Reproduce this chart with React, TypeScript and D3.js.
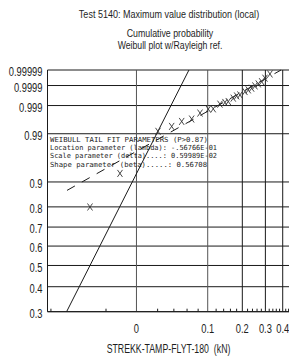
import React from "react";
import * as d3 from "d3";

const W = 289;
const H = 357;

// Weibull tail fit parameters (shown in the chart)
const LAMBDA = -0.056766;
const DELTA = 0.0059989;
const BETA = 0.56708;
const FIT_P_MIN = 0.87;

const X_DOMAIN = [-0.0408, 0.45];
const P_DOMAIN = [0.3, 0.99999];

const yTicks = [0.99999, 0.9999, 0.999, 0.99, 0.9, 0.8, 0.7, 0.6, 0.5, 0.4, 0.3];
const yTickLabels = ["0.99999", "0.9999", "0.999", "0.99", "0.9", "0.8", "0.7", "0.6", "0.5", "0.4", "0.3"];

const xMajor = [0, 0.1, 0.2, 0.3, 0.4];
const xMajorLabels = ["0", "0.1", "0.2", "0.3", "0.4"];
const xMinor = [-0.04, -0.02, 0.02, 0.04, 0.06, 0.08, 0.12, 0.14, 0.16, 0.18, 0.22, 0.24, 0.26, 0.28, 0.32, 0.34, 0.36, 0.38, 0.42, 0.44];

const sampleX = [-0.0275, -0.0119, 0.0204, 0.037, 0.0514, 0.0679, 0.0837, 0.1013, 0.1129, 0.1299, 0.1437, 0.1534, 0.1689, 0.1801, 0.1915, 0.2099, 0.2228, 0.2366, 0.2507, 0.2656, 0.2815, 0.2979, 0.324];
const sampleP = [0.7995, 0.926, 0.9915, 0.99401, 0.9959, 0.99662, 0.99797, 0.99859, 0.99862, 0.99913, 0.99927, 0.99934, 0.99954, 0.99964, 0.99968, 0.999785, 0.999825, 0.999858, 0.999895, 0.999919, 0.999941, 0.999964, 0.999981];

// Rayleigh reference line (two ends, straight in Weibull space)
const rayleighX = [-0.0358, 0.0632];
const rayleighP = [0.3, 0.99999];

const titleLines = ["Test 5140: Maximum value distribution (local)", "Cumulative probability", "Weibull plot w/Rayleigh ref."];
const xAxisLabel = "STREKK-TAMP-FLYT-180  (kN)";
const fitTextLines = [
  "WEIBULL TAIL FIT PARAMETERS (P>0.87)",
  "Location parameter (lambda): -.56766E-01",
  "Scale parameter (delta)....: 0.59989E-02",
  "Shape parameter (beta).....: 0.56708",
];

const FONT = "'Liberation Sans', Arial, sans-serif";
const MONO = "'DejaVu Sans Mono', 'Liberation Mono', monospace";

export default function App() {
  const left = 47.5, right = 290, top = 70, bottom = 311.7;
  const xLog = d3.scaleLog().domain([X_DOMAIN[0] - LAMBDA, X_DOMAIN[1] - LAMBDA]).range([left, right]);
  const xs = (v: number) => xLog(v - LAMBDA);
  const wt = (p: number) => Math.log(-Math.log(1 - p));
  const yLin = d3.scaleLinear().domain([wt(P_DOMAIN[0]), wt(P_DOMAIN[1])]).range([bottom, top]);
  const ys = (p: number) => yLin(wt(p));

  const line = d3.line<[number, number]>().x((d) => xs(d[0])).y((d) => ys(d[1]));
  const rayleigh: [number, number][] = rayleighX.map((v, i) => [v, rayleighP[i]]);
  const fitX = (p: number) => LAMBDA + DELTA * Math.pow(-Math.log(1 - p), 1 / BETA);
  const fitPts: [number, number][] = [FIT_P_MIN, P_DOMAIN[1]].map((p) => [fitX(p), p]);

  const stroke = "#1a1a1a";
  const txt = "#1e1e1e";

  return (
    <svg width={W} height={H} style={{ position: "absolute", left: 0, top: 0, background: "#fff" }}>
      <rect x={0} y={0} width={W} height={H} fill="#fff" />
      <defs>
        <clipPath id="plotclip">
          <rect x={left} y={top - 1} width={right - left} height={bottom - top + 2} />
        </clipPath>
      </defs>
      {/* titles */}
      <g transform="translate(169,17.5) scale(0.82,1)">
        <text x={0} y={0} fontFamily={FONT} fontSize={11} textAnchor="middle" fill={txt}>{titleLines[0]}</text>
      </g>
      <g transform="translate(170,37.2) scale(0.88,1)">
        <text x={0} y={0} fontFamily={FONT} fontSize={10} textAnchor="middle" fill={txt}>{titleLines[1]}</text>
      </g>
      <g transform="translate(170,48.6) scale(0.87,1)">
        <text x={0} y={0} fontFamily={FONT} fontSize={10} textAnchor="middle" fill={txt}>{titleLines[2]}</text>
      </g>

      {/* horizontal grid lines */}
      {yTicks.map((p) => (
        <line key={"h" + p} x1={left} x2={right} y1={ys(p)} y2={ys(p)} stroke={stroke} strokeWidth={1} />
      ))}
      {/* vertical grid lines */}
      {xMajor.map((v) => (
        <line key={"v" + v} x1={xs(v)} x2={xs(v)} y1={top} y2={bottom} stroke={v === 0.1 || v === 0 ? "#555" : stroke} strokeWidth={1} />
      ))}
      {/* axis frame */}
      <line x1={left} x2={left} y1={top} y2={bottom} stroke={stroke} strokeWidth={1} />
      <line x1={left} x2={right} y1={bottom} y2={bottom} stroke={stroke} strokeWidth={1} />
      {/* minor ticks */}
      {xMinor.map((v) => (
        <line key={"m" + v} x1={xs(v)} x2={xs(v)} y1={bottom} y2={bottom - 3} stroke={stroke} strokeWidth={1} />
      ))}

      {/* y labels */}
      {yTicks.map((p, i) => (
        <g key={"yl" + p} transform={`translate(42.5,${ys(p) + 3}) scale(0.72,1)`}>
          <text x={0} y={0} fontFamily={FONT} fontSize={13} textAnchor="end" dominantBaseline="middle" fill={txt}>{yTickLabels[i]}</text>
        </g>
      ))}
      {/* x labels */}
      {xMajor.map((v, i) => (
        <g key={"xl" + v} transform={`translate(${xs(v)},332.5) scale(0.72,1)`}>
          <text x={0} y={0} fontFamily={FONT} fontSize={13} textAnchor="middle" fill={txt}>{xMajorLabels[i]}</text>
        </g>
      ))}
      <g transform="translate(168.5,353) scale(0.73,1)">
        <text x={0} y={0} fontFamily={FONT} fontSize={12} textAnchor="middle" style={{ whiteSpace: "pre" }} fill={txt}>{xAxisLabel}</text>
      </g>

      {/* fit parameter text */}
      {fitTextLines.map((t, i) => (
        <text key={"ft" + i} x={50} y={142 + i * 8.2} fontFamily={MONO} fontSize={7} textLength={[158, 167, 167, 157][i]} lengthAdjust="spacingAndGlyphs" fill={txt}>{t}</text>
      ))}

      <g clipPath="url(#plotclip)">
        {/* Rayleigh reference */}
        <path d={line(rayleigh) || ""} fill="none" stroke={stroke} strokeWidth={1} />
        {/* Weibull tail fit */}
        <path d={line(fitPts) || ""} fill="none" stroke={stroke} strokeWidth={1} strokeDasharray="9,8" />
        {/* sample points */}
        {sampleX.map((v, i) => {
          const cx = xs(v), cy = ys(sampleP[i]);
          return (
            <path key={"pt" + i} d={`M${cx - 2.5},${cy - 3.5}L${cx + 2.5},${cy + 3.5}M${cx + 2.5},${cy - 3.5}L${cx - 2.5},${cy + 3.5}`} stroke="#333" strokeWidth={0.9} fill="none" />
          );
        })}
      </g>
    </svg>
  );
}
